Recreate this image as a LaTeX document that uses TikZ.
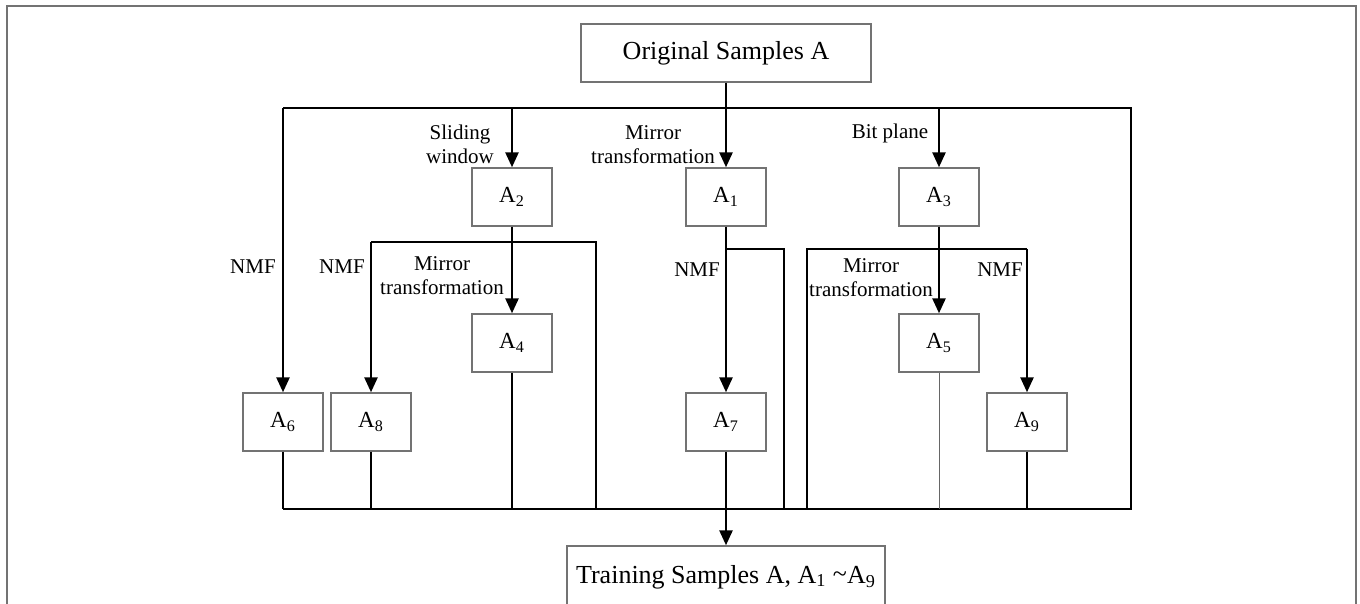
\documentclass[tikz,border=0pt]{standalone}
\usepackage{fontspec}
\setmainfont{Liberation Serif}
\usetikzlibrary{arrows.meta}
\tikzset{
  box/.style={draw=black!55, line width=0.7pt, fill=white, minimum width=40pt, minimum height=29pt, inner sep=0pt, font=\fontsize{11.5}{13}\selectfont},
  bigbox/.style={box, font=\fontsize{13}{15}\selectfont},
  bus/.style={line width=1.3pt, line join=miter},
  arr/.style={bus, -{Triangle[length=7.5pt,width=6.5pt]}},
  thinln/.style={line width=0.5pt, draw=black!60},
  lab/.style={font=\fontsize{10.5}{12}\selectfont, align=center, inner sep=0pt},
  frame/.style={draw=black!55, line width=0.8pt}
}
\newcommand{\Asub}[1]{A\textsubscript{#1}}
\begin{document}
\begin{tikzpicture}[x=0.5pt,y=-0.5pt]
\useasboundingbox (0,0) rectangle (1360,604);
\draw[frame] (7,610) -- (7,6) -- (1356,6) -- (1356,610);

\node[bigbox, minimum width=145pt] (orig) at (726,53) {Original Samples A};
\node[bigbox, minimum width=159pt, minimum height=31pt] (train) at (726,577) {Training Samples A, \Asub{1} \raisebox{0.1ex}{\char`\~}\Asub{9}};

\node[box] (A2) at (512,197) {\Asub{2}};
\node[box] (A1) at (726,197) {\Asub{1}};
\node[box] (A3) at (939,197) {\Asub{3}};
\node[box] (A4) at (512,343) {\Asub{4}};
\node[box] (A5) at (939,343) {\Asub{5}};
\node[box] (A6) at (283,422) {\Asub{6}};
\node[box] (A8) at (371,422) {\Asub{8}};
\node[box] (A7) at (726,422) {\Asub{7}};
\node[box] (A9) at (1027,422) {\Asub{9}};

\coordinate (tL) at (283,108);
\coordinate (tR) at (1131,108);
\coordinate (bL) at (283,509);
\coordinate (bR) at (1131,509);
\coordinate (b2L) at (371,242);
\coordinate (b2R) at (596,242);
\coordinate (b1R) at (784,249);
\coordinate (b3L) at (807,249);
\coordinate (b3R) at (1027,249);

% top bus
\draw[bus] (orig.south) -- (orig.south |- tL);
\draw[bus] (tL) -- (tR) -- (bR) -- (bL);
\draw[arr] (tL) -- (A6.north);
\draw[arr] (A2 |- tL) -- (A2.north);
\draw[arr] (A1 |- tL) -- (A1.north);
\draw[arr] (A3 |- tL) -- (A3.north);

% A2 branch
\draw[arr] (A2.south) -- (A4.north);
\draw[bus] (b2L) -- (b2R) -- (b2R |- bL);
\draw[arr] (b2L) -- (A8.north);

% A1 branch
\draw[arr] (A1.south) -- (A7.north);
\draw[bus] (A1 |- b1R) -- (b1R) -- (b1R |- bL);

% A3 branch
\draw[arr] (A3.south) -- (A5.north);
\draw[bus] (b3L |- bL) -- (b3L) -- (b3R);
\draw[arr] (b3R) -- (A9.north);

% to bottom bus
\draw[bus] (A6.south) -- (A6.south |- bL);
\draw[bus] (A8.south) -- (A8.south |- bL);
\draw[bus] (A4.south) -- (A4.south |- bL);
\draw[thinln] (A5.south) -- (A5.south |- bL);
\draw[bus] (A9.south) -- (A9.south |- bL);
\draw[arr] (A7.south) -- (train.north);

% labels
\node[lab] (l1) at (460,144) {Sliding\\window};
\node[lab] (l2) at (653,145) {Mirror\\transformation};
\node[lab] (l3) at (890,133) {Bit plane};
\node[lab] (l4) at (253,267) {NMF};
\node[lab] (l5) at (342,267) {NMF};
\node[lab] (l6) at (442,276) {Mirror\\transformation};
\node[lab] (l7) at (697,270) {NMF};
\node[lab] (l8) at (871,278) {Mirror\\transformation};
\node[lab] (l9) at (1000,270) {NMF};
\end{tikzpicture}
\end{document}
